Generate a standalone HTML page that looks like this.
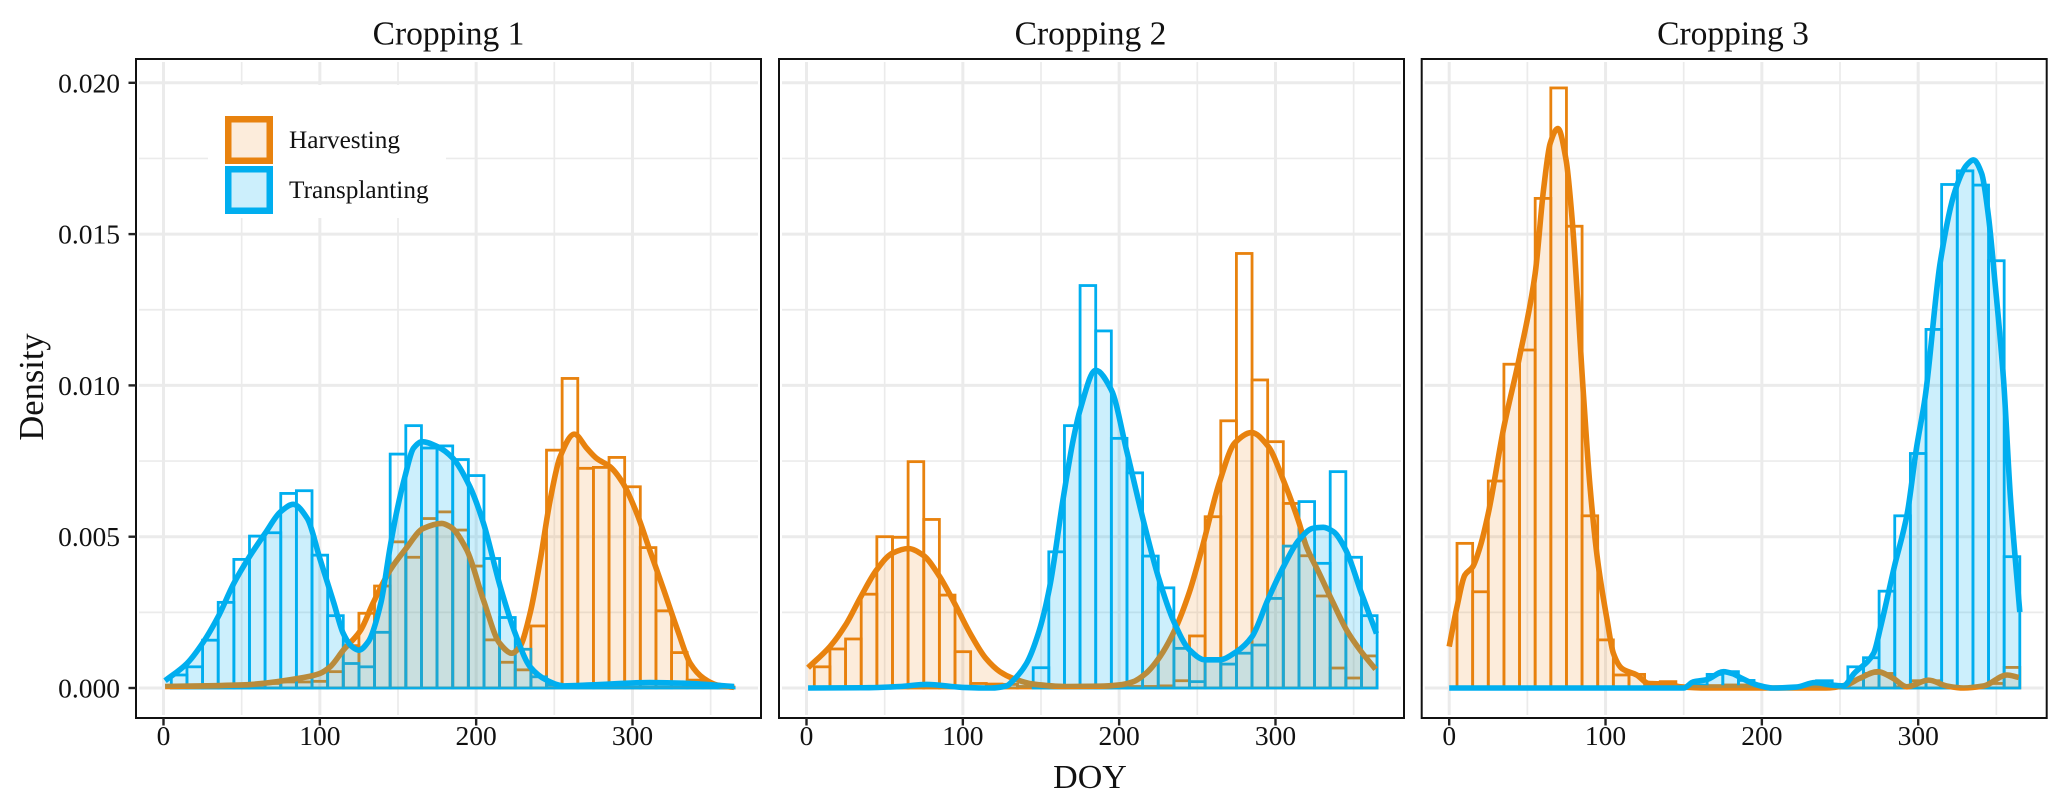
<!DOCTYPE html>
<html lang="en">
<head>
<meta charset="utf-8">
<title>Density of DOY by cropping</title>
<style>
html,body{margin:0;padding:0;background:#fff;}
svg{display:block;}
text{font-family:"Liberation Serif",serif;fill:#111111;}
</style>
</head>
<body>
<svg id="chart" xmlns="http://www.w3.org/2000/svg" width="2067" height="807" viewBox="0 0 2067 807">
  <rect x="0" y="0" width="2067" height="807" fill="#ffffff"/>
  <text x="448.5" y="44.5" font-size="33.5" text-anchor="middle">Cropping 1</text>
  <text x="1090.5" y="44.5" font-size="33.5" text-anchor="middle">Cropping 2</text>
  <text x="1733" y="44.5" font-size="33.5" text-anchor="middle">Cropping 3</text>
  <text x="1090" y="788" font-size="34" text-anchor="middle">DOY</text>
  <text transform="translate(43,387) rotate(-90)" font-size="34.5" text-anchor="middle">Density</text>
  <g id="panels"></g>
  <g>
    <rect x="208" y="85" width="238" height="133" fill="#ffffff"/>
    <rect x="228.25" y="119.25" width="41.5" height="41.5" fill="#E8820E" fill-opacity="0.15" stroke="#E8820E" stroke-width="6.5"/>
    <rect x="228.25" y="169.25" width="41.5" height="41.5" fill="#00AEEF" fill-opacity="0.2" stroke="#00AEEF" stroke-width="6.5"/>
    <text x="289" y="148" font-size="25.3">Harvesting</text>
    <text x="289" y="198" font-size="25.3">Transplanting</text>
  </g>
</svg>
<script>
// Histogram bin centres (day of year) and tick labels
const binCenters = [10,20,30,40,50,60,70,80,90,100,110,120,130,140,150,160,170,180,190,200,210,220,230,240,250,260,270,280,290,300,310,320,330,340,350,360];
const xTicks = [0,100,200,300];
const xMinorTicks = [50,150,250,350];
const yTickLabels = ["0.000","0.005","0.010","0.015","0.020"];
const yMinorTicks = [0.0025,0.0075,0.0125,0.0175];
const binWidth = 10;

// Histogram densities, in units of 0.001
const harvestBars1 = [.05,.05,.08,.08,.1,.1,.15,.2,.2,.22,.54,1.4,2.47,3.37,4.83,4.32,5.6,5.82,5.22,4.03,1.59,.85,.6,2.05,7.86,10.23,7.26,7.29,7.62,6.65,4.64,2.55,1.17,.26,.08,.03];
const transplantBars1 = [.43,.7,1.58,2.83,4.25,5.02,5.13,6.43,6.52,4.39,2.39,.81,.7,1.84,7.73,8.67,7.93,8.0,7.55,7.02,4.28,2.33,1.28,.37,.1,.05,.03,.03,.03,.03,.03,.03,.03,.02,.02,.01];
const harvestBars2 = [.7,1.29,1.62,3.1,5.0,4.98,7.48,5.57,3.07,1.2,.15,.13,.12,.05,.08,.05,.05,.05,.05,.05,.05,.05,.07,.24,1.72,5.66,8.83,14.36,10.18,8.14,6.1,4.37,3.04,.66,.33,1.06];
const transplantBars2 = [0,0,0,0,0,0,0,0,0,0,0,0,0,0,.67,4.5,8.67,13.3,11.8,8.25,7.11,4.36,3.31,1.31,.21,.93,.79,1.15,1.42,2.96,4.69,6.16,4.12,7.15,4.32,2.39];
const harvestBars3 = [4.78,3.18,6.84,10.7,11.17,16.18,19.83,15.26,5.69,1.59,.43,.45,.02,.21,.05,.02,.08,.1,.1,.05,.02,.02,.02,.02,.02,.29,.48,.48,.04,.24,.24,.04,.02,.05,.15,.68];
const transplantBars3 = [0,0,0,0,0,0,0,0,0,0,0,0,0,0,0,.1,.45,.54,.25,.03,0,.02,.05,.24,.03,.7,1.0,3.2,5.69,7.75,11.85,16.64,17.09,16.62,14.12,4.34];

// Density curves: day of year and density (units of 0.001)
const harvestDoy1 = [1,50,90,100,106.6,115,126,134,145,155,166,178,183.4,194,204.7,215,222.8,228,234.5,241,247.3,253.7,262.8,270.8,277,285.7,294,302.8,311,320,328.8,337,345.5,354,365];
const harvestCurve1 = [.05,.1,.35,.48,.7,1.25,1.9,2.8,3.9,4.6,5.27,5.44,5.33,4.56,2.9,1.48,1.15,1.37,2.47,4.23,6.2,7.64,8.39,7.92,7.59,7.31,6.76,5.77,4.56,3.24,1.92,.81,.32,.1,0.02];
const transplantDoy1 = [1,15,25,35,45,55,65,75,83,92,100,109,115,120.5,125,131,139,145,149,154.4,160,165.3,175.5,185,196,204.7,215.4,225,234.5,245,256,273,311,332,365];
const transplantCurve1 = [.24,.81,1.48,2.36,3.46,4.34,5.11,5.83,6.07,5.6,4.28,2.8,1.8,1.37,1.25,1.53,2.8,4.67,5.78,6.98,7.93,8.14,7.97,7.6,6.65,5.44,3.35,1.8,.7,.26,.07,.1,.18,.16,.05];

const harvestDoy2 = [1,15,25,34.8,44.8,54.8,65,74.6,84.6,94.7,104.7,114.7,123.7,132,145,166,187.6,200,208.6,217,226,235.6,245,252.7,264,274,284.7,295.4,305,314.5,319.8,328,337,345.4,354,364];
const harvestCurve2 = [.67,1.37,2.08,3.02,3.9,4.45,4.61,4.39,3.73,2.8,1.8,.98,.54,.32,.13,.05,.06,.1,.2,.48,1.03,1.92,3.18,4.56,6.77,8.1,8.44,7.98,6.87,5.55,4.67,3.79,2.8,1.92,1.26,.62];
const transplantDoy2 = [1,40,60,76.8,100,118,128,132,140.7,149,155.6,164,170.6,175,185,195,204.7,215.4,225,235,245,255,264,275,285,295,305,315,324,330.5,337,345,355,364.6];
const transplantCurve2 = [0,.01,.05,.12,.02,0,.07,.24,.81,1.92,3.35,6.2,8.2,9.19,10.5,9.85,7.86,5.55,3.68,2.19,1.26,.93,.93,1.2,1.7,2.9,4.0,4.89,5.28,5.31,5.17,4.56,3.13,1.8];

const harvestDoy3 = [0,5,10,15,19.8,25,35,45,55,60.3,64.6,69.5,74.8,78.5,86,90,95,101,105,110.4,120,127.5,139,148,165,186,207,241,254,262.6,274,284,292.8,306.6,318,329,342,356.8,364.3];
const harvestCurve3 = [1.37,2.69,3.73,4.0,4.67,5.77,8.63,10.95,13.7,16.45,18.0,18.49,17.44,15.57,9.6,6.7,4.2,2.25,1.15,.65,.43,.15,.13,.04,0,0,0,0,.1,.32,.54,.32,.04,.26,.07,0,.07,.43,.35];
const transplantDoy3 = [0,50,100,150,156,165,175.5,182,186,197,207,222,234,244,252,259,271.5,276,284.7,293,298.7,304.5,314,323.7,331,335.4,340.6,345,349,354.6,359,365];
const transplantCurve3 = [0,0,0,0,.2,.28,.54,.46,.35,.1,0,.03,.18,.1,.07,.48,1.15,2.03,4.0,5.77,7.86,9.63,14.03,16.45,17.28,17.45,17.0,15.57,13.48,10.18,6.3,2.51];

const panelLefts = [136,779,1421.7];
const panelTitles = ["cropping-1","cropping-2","cropping-3"];
const harvestBarSets = [harvestBars1,harvestBars2,harvestBars3];
const transplantBarSets = [transplantBars1,transplantBars2,transplantBars3];
const harvestDoySets = [harvestDoy1,harvestDoy2,harvestDoy3];
const harvestCurveSets = [harvestCurve1,harvestCurve2,harvestCurve3];
const transplantDoySets = [transplantDoy1,transplantDoy2,transplantDoy3];
const transplantCurveSets = [transplantCurve1,transplantCurve2,transplantCurve3];

const PANEL_W = 625, PANEL_TOP = 59, PANEL_BOTTOM = 718, X_OFFSET = 27.5, X_SCALE = 1.5633;
const Y_ZERO = 688, Y_SCALE = 30.26;
const ORANGE = "#E8820E", BLUE = "#00AEEF", GRID = "#EBEBEB";
const NS = "http://www.w3.org/2000/svg";

function xScale(left, doy){ return left + X_OFFSET + doy * X_SCALE; }
function yScale(milli){ return Y_ZERO - milli * Y_SCALE; }

function make(parent, tag, attrs){
  const el = document.createElementNS(NS, tag);
  for (const k in attrs) el.setAttribute(k, attrs[k]);
  parent.appendChild(el);
  return el;
}

// Monotone cubic path through points (same idea as d3.curveMonotoneX)
function tangents(xs, ys){
  const n = xs.length, d = [], m = [];
  for (let i = 0; i < n - 1; i++) d.push((ys[i+1]-ys[i])/(xs[i+1]-xs[i]));
  m.push(d[0]);
  for (let i = 1; i < n - 1; i++){
    if (d[i-1]*d[i] <= 0) m.push(0);
    else {
      const h0 = xs[i]-xs[i-1], h1 = xs[i+1]-xs[i];
      const w1 = 2*h1+h0, w2 = h1+2*h0;
      m.push((w1+w2)/(w1/d[i-1]+w2/d[i]));
    }
  }
  m.push(d[n-2]);
  return m;
}
function curvePath(xs, ys){
  const m = tangents(xs, ys);
  let p = "M" + xs[0].toFixed(2) + "," + ys[0].toFixed(2);
  for (let i = 0; i < xs.length - 1; i++){
    const h = (xs[i+1]-xs[i])/3;
    p += "C" + (xs[i]+h).toFixed(2) + "," + (ys[i]+m[i]*h).toFixed(2) + " " +
         (xs[i+1]-h).toFixed(2) + "," + (ys[i+1]-m[i+1]*h).toFixed(2) + " " +
         xs[i+1].toFixed(2) + "," + ys[i+1].toFixed(2);
  }
  return p;
}

function drawBars(g, left, values, color, seriesName){
  values.forEach(function(v, i){
    const x0 = xScale(left, binCenters[i] - binWidth/2);
    const x1 = xScale(left, binCenters[i] + binWidth/2);
    const bar = make(g, "rect", {x:x0, y:yScale(v), width:x1-x0, height:yScale(0)-yScale(v), fill:"none", stroke:color, "stroke-width":2.8});
    
    
  });
}

function drawDensity(g, left, doys, vals, color, alpha, seriesName){
  const xs = doys.map(function(d){ return xScale(left, d); });
  const ys = vals.map(function(v){ return yScale(v); });
  const line = curvePath(xs, ys);
  const area = make(g, "path", {d: line + "L" + xs[xs.length-1] + "," + yScale(0) + "L" + xs[0] + "," + yScale(0) + "Z", fill:color, "fill-opacity":alpha, stroke:"none"});
  
  
  const path = make(g, "path", {d: line, fill:"none", stroke:color, "stroke-width":5.6, "stroke-linejoin":"round"});
  
  
}

const root = document.getElementById("panels");
panelLefts.forEach(function(left, p){
  const panel = make(root, "g", {});
  
  

  const right = left + PANEL_W;
  // Grid
  const grid = make(panel, "g", {});
  
  
  yMinorTicks.forEach(function(t){
    const y = yScale(t*1000);
    const l = make(grid, "line", {x1:left+3, x2:right-3, y1:y, y2:y, stroke:GRID, "stroke-width":1.7});
    
    
  });
  xMinorTicks.forEach(function(t){
    const x = xScale(left, t);
    const l = make(grid, "line", {x1:x, x2:x, y1:PANEL_TOP+3, y2:PANEL_BOTTOM-3, stroke:GRID, "stroke-width":1.7});
    
    
  });
  yTickLabels.forEach(function(t){
    const y = yScale(parseFloat(t)*1000);
    const l = make(grid, "line", {x1:left+3, x2:right-3, y1:y, y2:y, stroke:GRID, "stroke-width":3});
    
    
  });
  xTicks.forEach(function(t){
    const x = xScale(left, t);
    const l = make(grid, "line", {x1:x, x2:x, y1:PANEL_TOP+3, y2:PANEL_BOTTOM-3, stroke:GRID, "stroke-width":3});
    
    
  });

  // Marks: histograms first, then density layers
  drawBars(panel, left, harvestBarSets[p], ORANGE, 'harvesting');
  drawBars(panel, left, transplantBarSets[p], BLUE, 'transplanting');
  drawDensity(panel, left, harvestDoySets[p], harvestCurveSets[p], ORANGE, 0.15, 'harvesting');
  drawDensity(panel, left, transplantDoySets[p], transplantCurveSets[p], BLUE, 0.2, 'transplanting');

  // Border
  const border = make(panel, "rect", {x:left, y:PANEL_TOP, width:PANEL_W, height:PANEL_BOTTOM-PANEL_TOP, fill:"none", stroke:"#111111", "stroke-width":2});
  
  

  // X ticks
  xTicks.forEach(function(t){
    const x = xScale(left, t);
    const tick = make(panel, "line", {x1:x, x2:x, y1:PANEL_BOTTOM, y2:PANEL_BOTTOM+7.5, stroke:"#222222", "stroke-width":2.4});
    
    
    const label = make(panel, "text", {x:x, y:PANEL_BOTTOM+27, "font-size":27.5, "text-anchor":"middle"});
    label.textContent = String(t);
    
    
  });

  // Y ticks on first panel only
  yTickLabels.forEach(function(t){
    const y = yScale(parseFloat(t)*1000);
    if (p === 0){
      const tick = make(panel, "line", {x1:left-7.5, x2:left, y1:y, y2:y, stroke:"#222222", "stroke-width":2.4});
      
      
      const label = make(panel, "text", {x:left-16, y:y+9.5, "font-size":27.5, "text-anchor":"end"});
      label.textContent = t;
      
      
    }
  });
});
</script>
</body>
</html>
